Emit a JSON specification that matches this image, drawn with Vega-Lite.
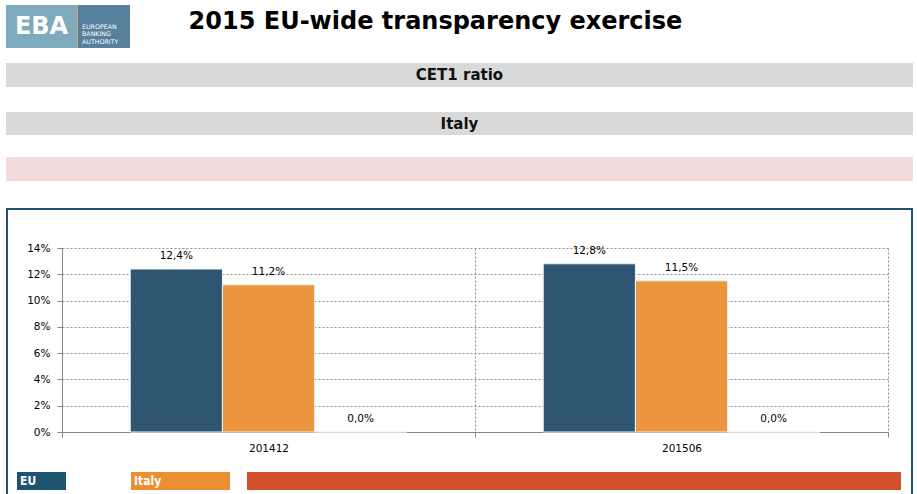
{
  "$schema": "https://vega.github.io/schema/vega-lite/v6.json",
  "padding": {"left": 6, "top": 5, "right": 4, "bottom": 0},
  "background": "white",
  "spacing": 0,
  "bounds": "flush",
  "config": {
    "view": {"stroke": null},
    "font": "DejaVu Sans",
    "locale": {"number": {"decimal": ",", "thousands": ".", "grouping": [3], "currency": ["", " €"]}}
  },
  "vconcat": [
    {
      "spacing": 0,
      "bounds": "flush",
      "hconcat": [
        {
          "width": 71, "height": 43,
          "view": {"fill": "#7eaabd", "stroke": null},
          "data": {"values": [{"t": "EBA"}]},
          "mark": {"type": "text", "font": "DejaVu Sans", "fontWeight": "bold", "fontSize": 24, "color": "white"},
          "encoding": {"text": {"field": "t"}}
        },
        {
          "width": 1, "height": 43,
          "view": {"fill": "#e0a466", "stroke": null},
          "data": {"values": []},
          "mark": "text"
        },
        {
          "width": 52, "height": 43,
          "view": {"fill": "#577f9e", "stroke": null},
          "data": {"values": [{"t": "EUROPEAN\nBANKING\nAUTHORITY"}]},
          "mark": {"type": "text", "font": "DejaVu Sans", "fontSize": 6.3, "color": "white", "align": "left", "dx": -22, "lineBreak": "\n", "lineHeight": 7.5},
          "encoding": {"text": {"field": "t"}}
        },
        {
          "width": 611, "height": 33,
          "data": {"values": [{"t": "2015 EU-wide transparency exercise"}]},
          "mark": {"type": "text", "font": "DejaVu Sans", "fontWeight": "bold", "fontSize": 24, "color": "black"},
          "encoding": {"text": {"field": "t"}}
        }
      ]
    },
    {"width": 907, "height": 58, "data": {"values": []}, "mark": "text"},
    {
      "width": 907, "height": 24,
      "view": {"fill": "#d9d9d9", "stroke": null},
      "data": {"values": [{"label": "CET1 ratio"}]},
      "mark": {"type": "text", "font": "DejaVu Sans", "fontWeight": "bold", "fontSize": 15, "color": "#111111"},
      "encoding": {"text": {"field": "label"}}
    },
    {"width": 907, "height": 25, "data": {"values": []}, "mark": "text"},
    {
      "width": 907, "height": 23,
      "view": {"fill": "#d9d9d9", "stroke": null},
      "data": {"values": [{"label": "Italy"}]},
      "mark": {"type": "text", "font": "DejaVu Sans", "fontWeight": "bold", "fontSize": 15, "color": "#111111"},
      "encoding": {"text": {"field": "label"}}
    },
    {"width": 907, "height": 22, "data": {"values": []}, "mark": "text"},
    {
      "width": 907, "height": 24,
      "view": {"fill": "#f2dcdb", "stroke": null},
      "data": {"values": []},
      "mark": "text"
    },
    {"width": 907, "height": 27, "data": {"values": []}, "mark": "text"},
    {
      "width": 907, "height": 2,
      "view": {"fill": "#1f5470", "stroke": null},
      "data": {"values": []},
      "mark": "text"
    },
    {
      "spacing": 0,
      "bounds": "flush",
      "hconcat": [
        {
          "width": 2, "height": 290,
          "view": {"fill": "#1f5470", "stroke": null},
          "data": {"values": []},
          "mark": "text"
        },
        {
          "spacing": 0,
          "bounds": "flush",
          "vconcat": [
            {"width": 903, "height": 38, "data": {"values": []}, "mark": "text"},
            {
              "spacing": 0,
              "bounds": "flush",
              "hconcat": [
                {"width": 54, "height": 184, "data": {"values": []}, "mark": "text"},
                {
                  "width": 826, "height": 184,
                  "data": {"values": [
                    {"period": "201412", "series": "EU", "value": 0.124},
                    {"period": "201412", "series": "Italy", "value": 0.112},
                    {"period": "201412", "series": "Other", "value": 0.0},
                    {"period": "201506", "series": "EU", "value": 0.128},
                    {"period": "201506", "series": "Italy", "value": 0.115},
                    {"period": "201506", "series": "Other", "value": 0.0}
                  ]},
                  "encoding": {
                    "x": {
                      "field": "period", "type": "nominal",
                      "scale": {"paddingInner": 0, "paddingOuter": 0},
                      "axis": {
                        "title": null, "labelAngle": 0, "tickBand": "extent", "grid": true,
                        "domainColor": "#868686", "tickColor": "#868686", "tickSize": 5,
                        "gridColor": "#8c8c8c", "gridDash": [2, 2],
                        "labelFont": "DejaVu Sans", "labelFontSize": 10.5, "labelColor": "#000000", "labelPadding": 6
                      }
                    },
                    "xOffset": {
                      "field": "series", "type": "nominal",
                      "scale": {"paddingInner": 0, "paddingOuter": 0.74}
                    },
                    "y": {
                      "field": "value", "type": "quantitative",
                      "scale": {"domain": [0, 0.14]},
                      "axis": {
                        "title": null, "values": [0, 0.02, 0.04, 0.06, 0.08, 0.1, 0.12, 0.14], "format": ".0%",
                        "domainColor": "#868686", "tickColor": "#868686", "tickSize": 5,
                        "gridColor": "#8c8c8c", "gridDash": [2, 2],
                        "labelFont": "DejaVu Sans", "labelFontSize": 10.5, "labelColor": "#000000", "labelPadding": 7
                      }
                    }
                  },
                  "layer": [
                    {
                      "mark": {"type": "bar", "stroke": "#f2f2f2", "strokeWidth": 1},
                      "encoding": {
                        "color": {
                          "field": "series", "type": "nominal",
                          "scale": {"domain": ["EU", "Italy", "Other"], "range": ["#2e5673", "#eb963e", "#d44f2b"]},
                          "legend": null
                        }
                      }
                    },
                    {
                      "mark": {"type": "text", "dy": -13, "font": "DejaVu Sans", "fontSize": 10.5, "color": "#000000"},
                      "encoding": {"text": {"field": "value", "type": "quantitative", "format": ".1%"}}
                    }
                  ]
                }
              ]
            },
            {"width": 903, "height": 224, "data": {"values": []}, "mark": "text"},
            {
              "spacing": 0,
              "bounds": "flush",
              "hconcat": [
                {"width": 9, "height": 18, "data": {"values": []}, "mark": "text"},
                {
                  "width": 49, "height": 18,
                  "view": {"fill": "#1d5570", "stroke": null},
                  "data": {"values": [{"series": "EU"}]},
                  "mark": {"type": "text", "font": "Liberation Sans Narrow, DejaVu Sans Condensed, sans-serif", "fontWeight": "bold", "fontSize": 12, "color": "white", "align": "left", "dx": -21.5},
                  "encoding": {"text": {"field": "series"}}
                },
                {"width": 65, "height": 18, "data": {"values": []}, "mark": "text"},
                {
                  "width": 99, "height": 18,
                  "view": {"fill": "#e98f31", "stroke": null},
                  "data": {"values": [{"series": "Italy"}]},
                  "mark": {"type": "text", "font": "Liberation Sans Narrow, DejaVu Sans Condensed, sans-serif", "fontWeight": "bold", "fontSize": 12, "color": "white", "align": "left", "dx": -46.5},
                  "encoding": {"text": {"field": "series"}}
                },
                {"width": 17, "height": 18, "data": {"values": []}, "mark": "text"},
                {
                  "width": 654, "height": 18,
                  "view": {"fill": "#d44f2b", "stroke": null},
                  "data": {"values": []},
                  "mark": "text"
                }
              ]
            }
          ]
        },
        {"width": 903, "height": 1, "data": {"values": []}, "mark": "text"},
        {
          "width": 2, "height": 290,
          "view": {"fill": "#1f5470", "stroke": null},
          "data": {"values": []},
          "mark": "text"
        }
      ]
    }
  ]
}
